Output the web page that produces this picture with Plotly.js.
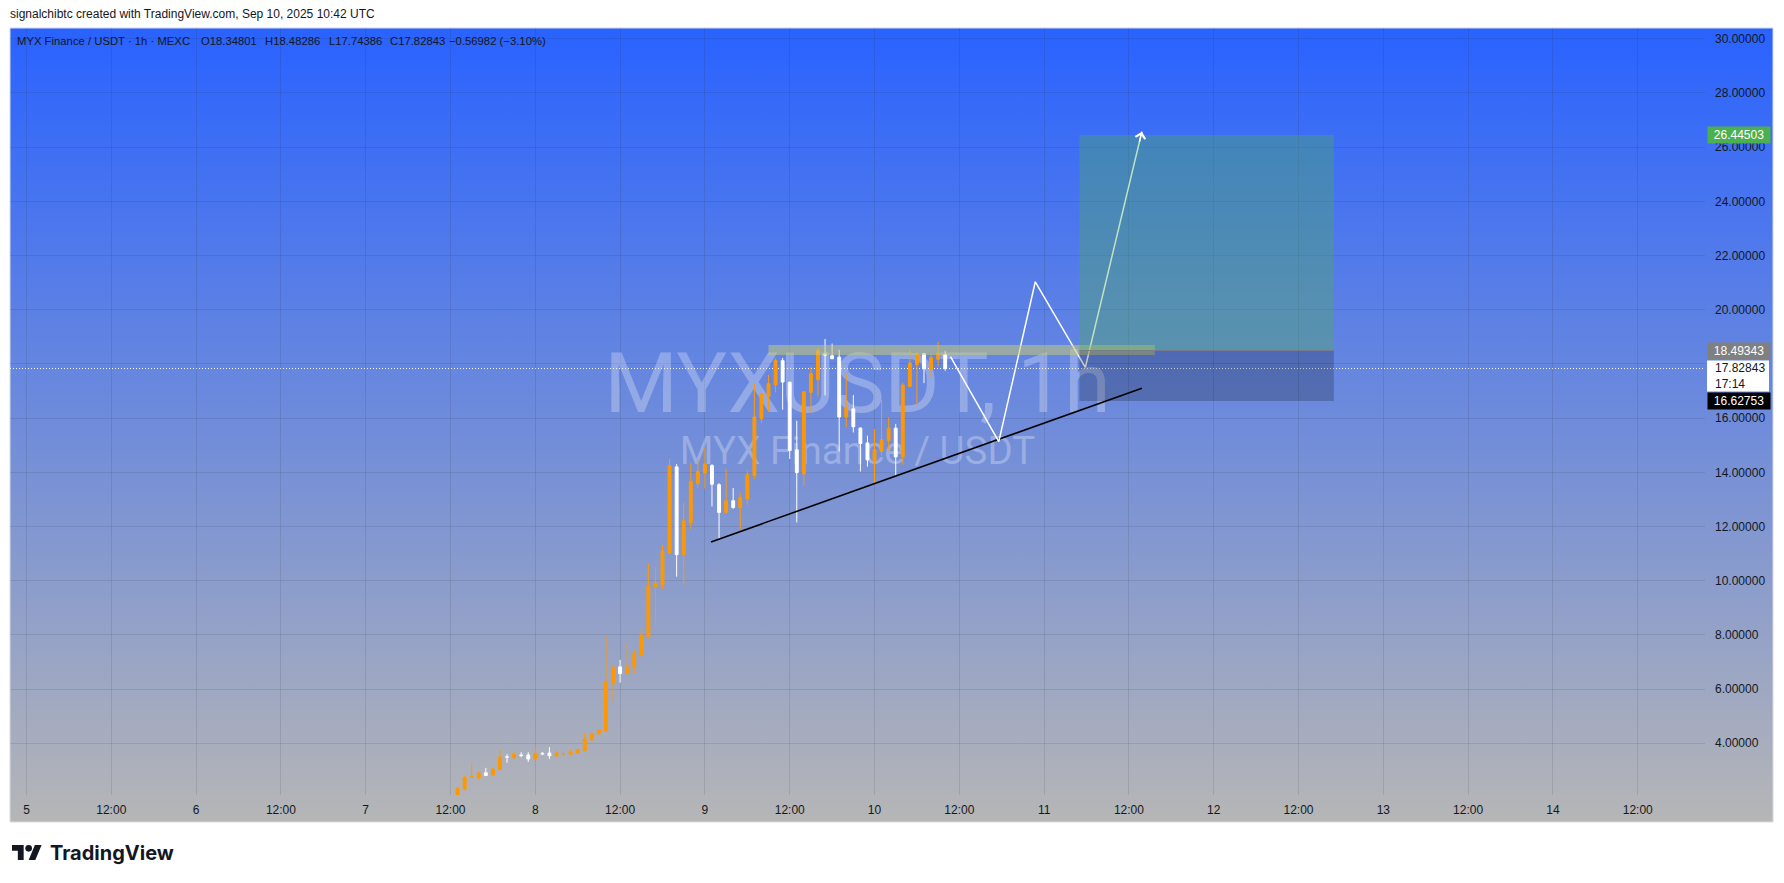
<!DOCTYPE html>
<html><head><meta charset="utf-8">
<script src="https://cdn.plot.ly/plotly-3.0.1.min.js"></script>
<style>html,body{margin:0;padding:0;background:#fff;overflow:hidden}#chart{width:1784px;height:883px}</style>
</head><body><div id="chart"></div>
<script>
// ---------- data ----------
const times = [
 '2025-09-07 13:00','2025-09-07 14:00','2025-09-07 15:00','2025-09-07 16:00','2025-09-07 17:00','2025-09-07 18:00','2025-09-07 19:00','2025-09-07 20:00','2025-09-07 21:00','2025-09-07 22:00','2025-09-07 23:00',
 '2025-09-08 00:00','2025-09-08 01:00','2025-09-08 02:00','2025-09-08 03:00','2025-09-08 04:00','2025-09-08 05:00','2025-09-08 06:00','2025-09-08 07:00','2025-09-08 08:00','2025-09-08 09:00','2025-09-08 10:00','2025-09-08 11:00',
 '2025-09-08 12:00','2025-09-08 13:00','2025-09-08 14:00','2025-09-08 15:00','2025-09-08 16:00','2025-09-08 17:00','2025-09-08 18:00','2025-09-08 19:00','2025-09-08 20:00','2025-09-08 21:00','2025-09-08 22:00','2025-09-08 23:00',
 '2025-09-09 00:00','2025-09-09 01:00','2025-09-09 02:00','2025-09-09 03:00','2025-09-09 04:00','2025-09-09 05:00','2025-09-09 06:00','2025-09-09 07:00','2025-09-09 08:00','2025-09-09 09:00','2025-09-09 10:00','2025-09-09 11:00',
 '2025-09-09 12:00','2025-09-09 13:00','2025-09-09 14:00','2025-09-09 15:00','2025-09-09 16:00','2025-09-09 17:00','2025-09-09 18:00','2025-09-09 19:00','2025-09-09 20:00','2025-09-09 21:00','2025-09-09 22:00','2025-09-09 23:00',
 '2025-09-10 00:00','2025-09-10 01:00','2025-09-10 02:00','2025-09-10 03:00','2025-09-10 04:00','2025-09-10 05:00','2025-09-10 06:00','2025-09-10 07:00','2025-09-10 08:00','2025-09-10 09:00','2025-09-10 10:00'
];
const opens = [2.05,2.31,2.74,2.73,2.91,2.83,3.03,3.50,3.46,3.57,
 3.57,3.42,3.63,3.64,3.54,3.61,3.60,3.64,3.73,4.13,
 4.35,4.45,6.23,6.82,6.57,6.82,7.27,7.93,9.78,9.85,
 11.04,14.20,10.96,12.14,13.59,13.97,14.25,13.54,12.52,12.95,
 12.70,13.02,13.88,15.98,16.80,17.22,18.12,17.32,14.83,13.94,
 16.95,17.42,18.36,18.30,18.25,16.04,16.34,15.63,15.08,14.42,
 14.77,15.17,15.63,14.57,17.17,17.98,18.38,17.82,18.17,18.34801];
const highs = [2.40,2.80,3.24,2.97,3.09,3.09,3.76,3.60,3.67,3.67,
 3.67,3.86,3.68,3.86,3.72,3.68,3.76,3.82,4.39,4.45,
 4.52,7.99,6.88,7.08,7.72,7.48,8.29,10.62,10.50,11.32,
 14.49,14.30,12.88,14.34,14.49,14.92,14.30,13.60,14.12,13.42,
 13.25,14.06,17.27,16.98,17.60,18.20,18.22,17.35,15.90,16.98,
 17.88,18.59,18.92,18.75,18.52,17.64,16.85,15.66,15.35,15.60,
 16.68,16.02,15.78,17.31,18.52,18.46,18.40,18.38,18.81,18.48286];
const lows = [1.98,2.27,2.73,2.64,2.79,2.82,3.03,3.28,3.44,3.48,
 3.31,3.42,3.56,3.42,3.50,3.53,3.56,3.63,3.72,4.07,
 4.29,4.44,5.57,6.24,6.56,6.57,7.13,7.87,8.31,9.70,
 10.98,10.15,9.85,11.91,13.42,13.40,12.74,11.54,12.48,12.65,
 11.91,12.80,13.75,15.82,16.25,16.95,16.31,14.49,12.15,13.51,
 16.19,16.80,16.84,18.19,14.77,15.65,15.47,14.03,14.21,13.58,
 14.61,14.80,13.88,14.28,17.15,16.49,17.29,17.52,17.91,17.74386];
const closes = [2.34,2.74,2.76,2.90,2.81,3.05,3.49,3.49,3.60,3.55,
 3.42,3.63,3.61,3.54,3.64,3.62,3.68,3.76,4.16,4.36,
 4.50,6.27,6.81,6.57,6.82,7.30,8.00,9.81,9.91,11.10,
 14.24,10.96,12.21,13.65,14.04,14.31,13.56,12.52,12.95,12.70,
 13.06,13.91,16.04,16.90,17.27,18.12,17.33,14.80,13.99,16.97,
 17.64,18.49,18.33,18.19,16.04,16.39,15.68,15.06,14.46,14.83,
 15.20,15.63,14.57,17.22,18.03,18.38,17.82,18.23,18.40,17.82843];

const xTickVals = ['2025-09-05 00:00','2025-09-05 12:00','2025-09-06 00:00','2025-09-06 12:00','2025-09-07 00:00','2025-09-07 12:00',
 '2025-09-08 00:00','2025-09-08 12:00','2025-09-09 00:00','2025-09-09 12:00','2025-09-10 00:00','2025-09-10 12:00',
 '2025-09-11 00:00','2025-09-11 12:00','2025-09-12 00:00','2025-09-12 12:00','2025-09-13 00:00','2025-09-13 12:00',
 '2025-09-14 00:00','2025-09-14 12:00'];
const xTickText = ['5','12:00','6','12:00','7','12:00','8','12:00','9','12:00','10','12:00','11','12:00','12','12:00','13','12:00','14','12:00'];
const yTickVals = [4,6,8,10,12,14,16,18,20,22,24,26,28,30];
// the 18.00000 label is hidden behind the price badges in the reference
const yTickText = ['4.00000','6.00000','8.00000','10.00000','12.00000','14.00000','16.00000','','20.00000','22.00000','24.00000','26.00000','28.00000','30.00000'];

// drawings
const trendX = ['2025-09-09 00:52','2025-09-11 13:50'];
const trendY = [11.43, 17.10];
const pathX = ['2025-09-10 10:45','2025-09-10 17:35','2025-09-10 22:45','2025-09-11 05:50','2025-09-11 13:50'];
const pathY = [18.27, 15.13, 21.03, 17.87, 26.57];
const bandX = ['2025-09-09 09:00','2025-09-11 15:40'];
const bandY = [18.33, 18.70];
const posX = ['2025-09-11 05:00','2025-09-12 17:00'];
const targetPrice = 26.44503, entryPrice = 18.49343, stopPrice = 16.62753;
const lastPrice = 17.82843;
const lastPriceText = '17.82843', countdownText = '17:14';
const legendTitle = 'MYX Finance / USDT · 1h · MEXC';
const legendO = '18.34801', legendH = '18.48286', legendL = '17.74386', legendC = '17.82843', legendChg = '−0.56982 (−3.10%)';

// ---------- geometry helpers ----------
const xRange = ['2025-09-04 21:40','2025-09-14 21:31'];
const yRange = [2.092, 30.395];
const PL = 10, PR = 1705, PT = 28, PB = 795;
const fx = px => (px - PL) / (PR - PL);
const fy = py => (PB - py) / (PB - PT);
const toMs = s => Date.parse(s.replace(' ', 'T') + ':00Z');
const pyToPrice = py => yRange[1] - (py - PT) / (PB - PT) * (yRange[1] - yRange[0]);
const midX = new Date((toMs(xRange[0]) + toMs(xRange[1])) / 2).toISOString().replace('T',' ').slice(0,19);

const FONT = 'Liberation Sans, Arial, sans-serif';
const TXT = '#131722';
const GRID = 'rgba(42,46,57,0.13)';

// gradient background (panel)
const gradSvg = '<svg xmlns="http://www.w3.org/2000/svg" width="100" height="100" viewBox="0 0 100 100" preserveAspectRatio="none">' +
 '<defs><linearGradient id="g" x1="0" y1="0" x2="0" y2="1"><stop offset="0" stop-color="#2962FF"/><stop offset="1" stop-color="#B6B6B6"/></linearGradient></defs>' +
 '<rect width="100" height="100" fill="url(#g)"/></svg>';
const logoSvg = '<svg xmlns="http://www.w3.org/2000/svg" width="36" height="18" viewBox="0 4 36 18" preserveAspectRatio="none">' +
 '<path fill="#131722" d="M14 22H7V11H0V4h14v18zM28 22h-8l7.5-18h8L28 22z"/><circle fill="#131722" cx="20" cy="8" r="4"/></svg>';

// arrow head direction in pixels
const msPerPx = (toMs(xRange[1]) - toMs(xRange[0])) / (PR - PL);
const prPerPx = (yRange[1] - yRange[0]) / (PB - PT);
const n = pathX.length;
const dxp = (toMs(pathX[n-1]) - toMs(pathX[n-2])) / msPerPx;
const dyp = (pathY[n-1] - pathY[n-2]) / prPerPx;
const dl = Math.hypot(dxp, dyp);
const axOff = -dxp / dl * 12, ayOff = dyp / dl * 12;

// ---------- traces ----------
const traces = [
 { type:'scatter', mode:'text', x:[midX], y:[pyToPrice(391)], text:['MYXUSDT, 1h'],
   textposition:'middle center', textfont:{family:'Roboto, sans-serif', size:84, color:'rgba(255,255,255,0.28)'},
   hoverinfo:'skip', showlegend:false, cliponaxis:false },
 { type:'scatter', mode:'text', x:[midX], y:[pyToPrice(454)], text:['MYX Finance / USDT'],
   textposition:'middle center', textfont:{family:'Roboto, sans-serif', size:38.5, color:'rgba(255,255,255,0.28)'},
   hoverinfo:'skip', showlegend:false, cliponaxis:false },
 { type:'candlestick', x:times, open:opens, high:highs, low:lows, close:closes, xaxis:'x2', yaxis:'y2',
   increasing:{line:{color:'#FF9800', width:1}, fillcolor:'#FF9800'},
   decreasing:{line:{color:'#FFFFFF', width:1}, fillcolor:'#FFFFFF'},
   whiskerwidth:0, hoverinfo:'skip', showlegend:false },
 { type:'scatter', mode:'lines', x:trendX, y:trendY, xaxis:'x2', yaxis:'y2',
   line:{color:'#000000', width:1.6}, hoverinfo:'skip', showlegend:false },
 { type:'scatter', mode:'lines', x:pathX, y:pathY, xaxis:'x2', yaxis:'y2',
   line:{color:'#FFFFFF', width:1.5}, hoverinfo:'skip', showlegend:false }
];

// ---------- shapes ----------
const shapes = [
 { type:'rect', xref:'paper', yref:'paper', x0:fx(10), x1:fx(1773), y0:fy(822), y1:fy(28),
   line:{color:'#D6D9E0', width:1}, fillcolor:'rgba(0,0,0,0)', layer:'below' },
 { type:'line', xref:'paper', yref:'y', x0:0, x1:1, y0:lastPrice, y1:lastPrice,
   line:{color:'#FFFFFF', width:1, dash:'1px,2px'}, layer:'between' },
 { type:'rect', xref:'x2', yref:'y2', x0:bandX[0], x1:bandX[1], y0:bandY[0], y1:bandY[1],
   line:{width:0}, fillcolor:'rgba(195,200,120,0.55)', layer:'above' },
 { type:'rect', xref:'x2', yref:'y2', x0:posX[0], x1:posX[1], y0:entryPrice, y1:targetPrice,
   line:{width:0}, fillcolor:'rgba(76,175,80,0.35)', layer:'above' },
 { type:'rect', xref:'x2', yref:'y2', x0:posX[0], x1:posX[1], y0:stopPrice, y1:entryPrice,
   line:{width:0}, fillcolor:'rgba(0,0,0,0.2)', layer:'above' },
 { type:'line', xref:'x2', yref:'y2', x0:posX[0], x1:posX[1], y0:entryPrice, y1:entryPrice,
   line:{color:'rgba(120,123,134,0.9)', width:1}, layer:'above' },
 { type:'rect', xref:'paper', yref:'y', x0:fx(1707), x1:fx(1769), ysizemode:'pixel', yanchor:lastPrice, y0:-23, y1:8,
   line:{width:0}, fillcolor:'#FFFFFF', layer:'above' }
];

// ---------- annotations ----------
const badge = (price, text, bg, fg) => ({ xref:'paper', x:1, xanchor:'left', xshift:2, yref:'y', y:price, yanchor:'middle',
  text:text, showarrow:false, bgcolor:bg, font:{family:FONT, size:12, color:fg}, width:58, height:12, borderpad:2, align:'center' });
const hdr = (px, text) => ({ xref:'paper', yref:'paper', x:fx(px), y:fy(41), xanchor:'left', yanchor:'middle',
  text:text, showarrow:false, borderpad:0, font:{family:FONT, size:11.3, color:TXT} });

const annotations = [
 { xref:'paper', yref:'paper', x:fx(9), y:fy(14), xanchor:'left', yanchor:'middle', showarrow:false, borderpad:0,
   text:'signalchibtc created with TradingView.com, Sep 10, 2025 10:42 UTC', font:{family:FONT, size:12, color:TXT} },
 hdr(16, legendTitle),
 hdr(199.5, 'O' + legendO),
 hdr(263.5, 'H' + legendH),
 hdr(327.5, 'L' + legendL),
 hdr(389, 'C' + legendC),
 hdr(448, legendChg),
 badge(targetPrice, targetPrice.toFixed(5), '#4CAF50', '#FFFFFF'),
 badge(entryPrice, entryPrice.toFixed(5), '#808080', '#FFFFFF'),
 badge(stopPrice, stopPrice.toFixed(5), '#000000', '#FFFFFF'),
 { xref:'paper', x:fx(1714), xanchor:'left', yref:'y', y:lastPrice, yanchor:'middle', yshift:-7.5,
   text:lastPriceText + '<br>' + countdownText, align:'left', showarrow:false, borderpad:0,
   font:{family:FONT, size:12, color:TXT} },
 { xref:'x2', yref:'y2', x:pathX[n-1], y:pathY[n-1], axref:'pixel', ayref:'pixel', ax:axOff, ay:ayOff,
   text:'', showarrow:true, arrowhead:4, arrowsize:1.3, arrowwidth:1.5, arrowcolor:'#FFFFFF', standoff:0 },
 { xref:'paper', yref:'paper', x:fx(49), y:fy(853), xanchor:'left', yanchor:'middle', showarrow:false, borderpad:0,
   text:'TradingView', font:{family:'Inter, Liberation Sans, sans-serif', size:20, weight:700, color:TXT} }
];

const images = [
 { source:'data:image/svg+xml;base64,' + btoa(gradSvg), xref:'paper', yref:'paper',
   x:fx(10), y:fy(28), sizex:fx(1773)-fx(10), sizey:fy(28)-fy(822), xanchor:'left', yanchor:'top',
   sizing:'stretch', layer:'below' },
 { source:'data:image/svg+xml;base64,' + btoa(logoSvg), xref:'paper', yref:'paper',
   x:fx(12), y:fy(845), sizex:fx(42)-fx(12), sizey:fy(845)-fy(860), xanchor:'left', yanchor:'top',
   sizing:'stretch', layer:'above' }
];

const layout = {
 width:1784, height:883,
 margin:{l:PL, r:1784-PR, t:PT, b:883-PB, pad:0},
 paper_bgcolor:'#FFFFFF', plot_bgcolor:'rgba(0,0,0,0)',
 showlegend:false, boxgap:0.42,
 font:{family:FONT, size:12, color:TXT},
 xaxis:{ type:'date', range:xRange, tickmode:'array', tickvals:xTickVals, ticktext:xTickText,
   showgrid:true, gridcolor:GRID, gridwidth:1, zeroline:false, showline:false, ticks:'',
   ticklabelstandoff:6, tickfont:{family:FONT, size:12, color:TXT}, rangeslider:{visible:false}, fixedrange:true },
 yaxis:{ side:'right', range:yRange, tickmode:'array', tickvals:yTickVals, ticktext:yTickText,
   showgrid:true, gridcolor:GRID, gridwidth:1, zeroline:false, showline:false, ticks:'',
   ticklabelstandoff:9, tickfont:{family:FONT, size:12, color:TXT}, fixedrange:true },
 xaxis2:{ type:'date', range:xRange, overlaying:'x', visible:false, rangeslider:{visible:false}, fixedrange:true },
 yaxis2:{ range:yRange, overlaying:'y', side:'right', visible:false, fixedrange:true },
 shapes:shapes, annotations:annotations, images:images
};

Plotly.newPlot('chart', traces, layout, {staticPlot:true, displayModeBar:false});
</script>
</body></html>
